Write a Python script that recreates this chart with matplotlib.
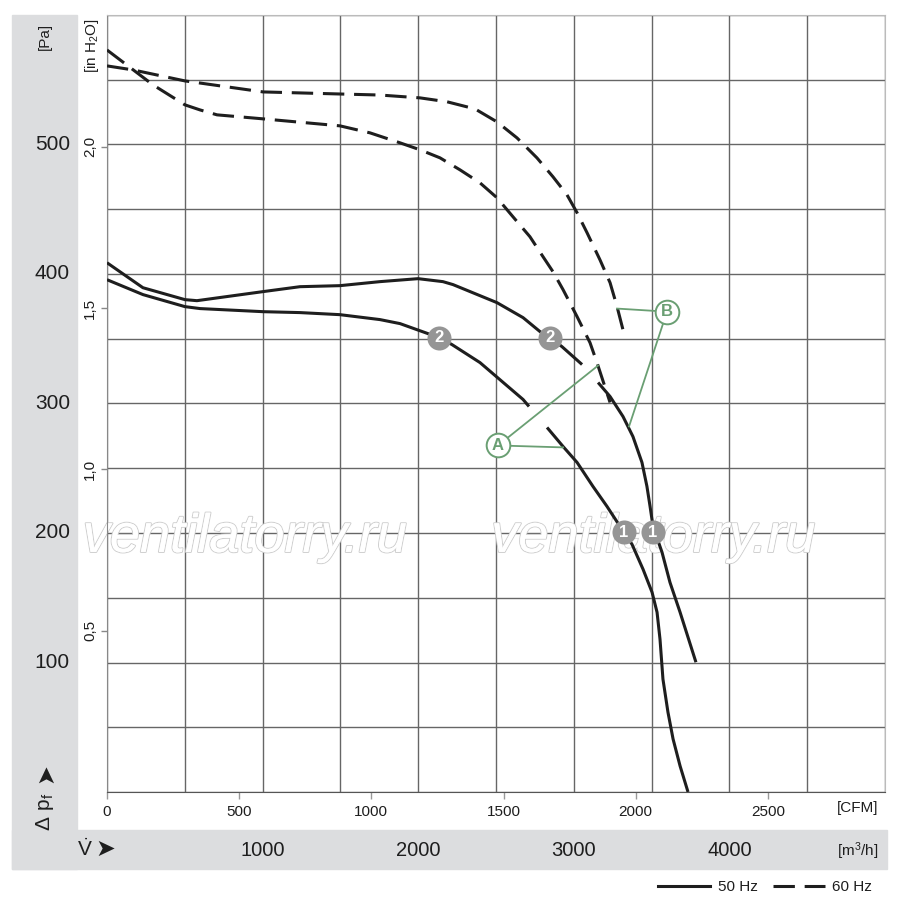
import matplotlib
matplotlib.use("Agg")
import matplotlib.pyplot as plt
import matplotlib.patheffects as pe
import matplotlib.transforms as mtransforms
from matplotlib.patches import Rectangle
from matplotlib.lines import Line2D

FONT = ["Liberation Sans", "DejaVu Sans"]
plt.rcParams["font.family"] = FONT
plt.rcParams["mathtext.default"] = "regular"

# curves, flow in m3/h, pressure in Pa
s1a_q = [0, 231, 501, 578, 1003, 1240, 1497, 1754, 1999, 2159, 2224, 2506, 2674, 2783, 2847, 2924, 3053]
s1a_p = [408.7, 389.4, 380.2, 379.4, 386.4, 390.2, 391.0, 394.1, 396.4, 394.1, 391.8, 377.9, 366.3, 355.5, 350.9, 343.9, 330.1]
s1b_q = [3156, 3233, 3316, 3380, 3438, 3470, 3490, 3509, 3567, 3618, 3683, 3734, 3785]
s1b_p = [316.2, 305.4, 290.0, 274.5, 254.5, 236.0, 220.6, 205.1, 185.1, 161.9, 138.8, 119.5, 100.2]

s2a_q = [0, 231, 501, 598, 1003, 1240, 1497, 1754, 1883, 2134, 2217, 2397, 2674, 2712]
s2a_p = [395.6, 384.1, 374.8, 373.3, 370.9, 370.2, 368.6, 364.8, 361.7, 350.9, 345.5, 331.6, 303.1, 297.7]
s2b_q = [2828, 2931, 3021, 3123, 3213, 3297, 3323, 3374, 3445, 3503, 3535, 3554, 3573, 3605, 3638, 3683, 3734]
s2b_p = [281.5, 266.8, 254.5, 236.0, 220.6, 205.1, 200.5, 191.3, 172.0, 154.2, 138.8, 118.0, 87.1, 61.7, 40.9, 20.1, 0]

d1_q = [0, 167, 501, 1003, 1497, 1754, 2012, 2185, 2365, 2506, 2635, 2763, 2866, 2956, 3021, 3085,
        3168, 3233, 3278, 3329]
d1_p = [560.7, 557.6, 549.1, 540.6, 539.0, 538.2, 536.0, 533.0, 527.5, 517.5, 505.1, 489.7, 475.1,
        461.2, 447.3, 431.9, 411.0, 393.3, 374.8, 350.9]

d2_q = [0, 296, 501, 598, 707, 1003, 1497, 1690, 1883, 2012, 2140, 2269, 2397, 2506, 2609, 2718, 2802,
        2866, 2931, 3021, 3104, 3149, 3233]
d2_p = [573.0, 546.0, 530.6, 526.7, 522.9, 519.8, 514.4, 509.0, 501.3, 495.9, 489.7, 480.4, 470.4,
        458.9, 444.2, 428.8, 413.4, 401.8, 387.9, 367.1, 347.0, 331.6, 300.8]

# numbered operating points
pt_q = [2134, 2847, 3323, 3509]
pt_p = [350.9, 350.9, 200.5, 200.5]
pt_lbl = ["2", "2", "1", "1"]

# lettered callouts: centre and two targets
call_lbl = ["A", "B"]
call_q = [2513, 3599]
call_p = [267.6, 370.9]
call_tq = [[3156, 2931], [3278, 3355]]
call_tp = [[329.3, 266.1], [373.3, 282.3]]

pa_ticks = [100, 200, 300, 400, 500]
inh2o_ticks = [0.5, 1.0, 1.5, 2.0]
cfm_ticks = [0, 500, 1000, 1500, 2000, 2500]
m3h_ticks = [1000, 2000, 3000, 4000]

GREEN = "#6a9f73"
INK = "#1e1e1e"

fig = plt.figure(figsize=(9, 9.1), dpi=100)


def fx(x):
    return x / 900


def fy(y):
    return 1 - y / 910


# grey L-shaped frame, behind the axes
fig.patches.append(Rectangle((fx(12), fy(869)), fx(65), (869 - 15) / 910,
                             transform=fig.transFigure, color="#dcdddf", zorder=-1))
fig.patches.append(Rectangle((fx(12), fy(869)), fx(875), 39 / 910,
                             transform=fig.transFigure, color="#dcdddf", zorder=-1))

ax = fig.add_axes([fx(107), fy(792), 778 / 900, 777 / 910])
ax.set_xlim(0, 5000)
ax.set_ylim(0, 600)
ax.set_xticks(range(0, 5001, 500))
ax.set_yticks(range(0, 601, 50))
ax.set_xticklabels([])
ax.set_yticklabels([])
ax.tick_params(length=0)
ax.grid(True, color="#666666", lw=1)
ax.set_axisbelow(True)
for s in ["top", "right"]:
    ax.spines[s].set_color("#bbbbbb")
ax.spines["left"].set_color("#888888")
ax.spines["bottom"].set_color("#555555")

# Pa and m3/h labels sit in the grey frame
ty = mtransforms.blended_transform_factory(fig.transFigure, ax.transData)
for v in pa_ticks:
    ax.text(fx(70), v, str(v), transform=ty, ha="right", va="center", fontsize=15, color=INK)
tx = mtransforms.blended_transform_factory(ax.transData, fig.transFigure)
for v in m3h_ticks:
    ax.text(v, fy(850), str(v), transform=tx, ha="center", va="center", fontsize=14.5, color=INK)

sec_y = ax.secondary_yaxis("left", functions=(lambda p: p / 249.089, lambda h: h * 249.089))
sec_y.set_yticks(inh2o_ticks)
sec_y.set_yticklabels([f"{v:.1f}".replace(".", ",") for v in inh2o_ticks], rotation=90, va="center")
sec_y.tick_params(length=4, width=1, color="#888888", pad=3, labelsize=11, labelcolor=INK)
sec_y.spines["left"].set_visible(False)

sec_x = ax.secondary_xaxis("bottom", functions=(lambda q: q / 1.699, lambda c: c * 1.699))
sec_x.set_xticks(cfm_ticks)
sec_x.tick_params(length=5, width=1, color="#999999", pad=4, labelsize=11, labelcolor=INK)
sec_x.spines["bottom"].set_visible(False)

# watermark
for xa in [0.177, 0.702]:
    ax.text(xa, 0.309, "ventilatorry.ru", transform=ax.transAxes, ha="center", va="baseline",
            fontsize=39, style="italic", color="white", zorder=2,
            path_effects=[pe.withStroke(linewidth=1.5, foreground="#cfcfcf"), pe.Normal()])

kw = dict(color=INK, lw=2.2, zorder=3, solid_capstyle="butt", solid_joinstyle="round")
ax.plot(s1a_q, s1a_p, **kw)
ax.plot(s1b_q, s1b_p, **kw)
ax.plot(s2a_q, s2a_p, **kw)
ax.plot(s2b_q, s2b_p, **kw)
ax.plot(d1_q, d1_p, dashes=(7, 3.2), **kw)
ax.plot(d2_q, d2_p, dashes=(7, 3.2), **kw)

ax.scatter(pt_q, pt_p, s=300, color="#959595", zorder=5, linewidths=0)
for q, p, t in zip(pt_q, pt_p, pt_lbl):
    ax.text(q, p, t, ha="center", va="center", color="white", fontsize=12,
            fontweight="bold", zorder=6)

for lbl, q, p, tq, tp in zip(call_lbl, call_q, call_p, call_tq, call_tp):
    for a, b in zip(tq, tp):
        ax.plot([q, a], [p, b], color=GREEN, lw=1.3, zorder=4)
    ax.scatter([q], [p], s=290, facecolor="white", edgecolor=GREEN, linewidths=1.4, zorder=5)
    ax.text(q, p, lbl, ha="center", va="center", color=GREEN, fontsize=12,
            fontweight="bold", zorder=6)

# unit labels and axis symbols
fig.text(fx(45), fy(36), "[Pa]", rotation=90, ha="center", va="center", fontsize=11, color=INK)
fig.text(fx(92), fy(46), "[in H$_2$O]", rotation=90, ha="center", va="center", fontsize=11, color=INK)
fig.text(fx(878), fy(808), "[CFM]", ha="right", va="center", fontsize=11, color=INK)
fig.text(fx(878), fy(851), "[m$^3$/h]", ha="right", va="center", fontsize=11, color=INK)
fig.text(fx(45), fy(812), "$\\Delta\\ p_f$", rotation=90, ha="center", va="center",
         fontsize=15, color=INK)
fig.text(fx(45), fy(773), "➤", rotation=90, ha="center", va="center", fontsize=17, color=INK,
         family="DejaVu Sans")
fig.text(fx(77), fy(849), "$\\dot{V}$", ha="left", va="center", fontsize=15, color=INK)
fig.text(fx(95), fy(849), "➤", ha="left", va="center", fontsize=17, color=INK,
         family="DejaVu Sans")

h50 = Line2D([], [], color=INK, lw=2.2)
h60 = Line2D([], [], color=INK, lw=2.2, dashes=(7, 3.2))
fig.legend([h50, h60], ["50 Hz", "60 Hz"], loc="center right", bbox_to_anchor=(fx(880), fy(887)),
           ncol=2, frameon=False, fontsize=11, handlelength=3.4, handletextpad=0.5,
           columnspacing=1.0, borderpad=0, labelcolor=INK)

fig.savefig("out.png", dpi=100)
